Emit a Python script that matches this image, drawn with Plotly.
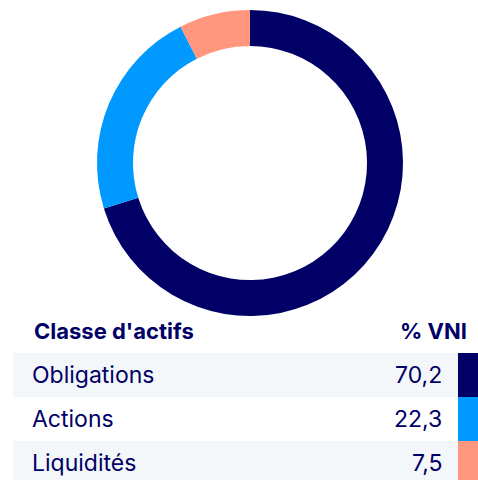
import plotly.graph_objects as go

# Asset allocation (% of net asset value)
categories = ["Obligations", "Actions", "Liquidités"]
values = [70.2, 22.3, 7.5]
colors = ["#000066", "#0099FF", "#FF967D"]
header = ["Classe d'actifs", "% VNI"]

W, H = 478, 480
TEXT = "#000066"
ROW_BG = "#F3F7F9"
FONT = "Inter"


def py(y):
    """Pixel row (from top) to paper coordinate."""
    return 1 - y / H


def px(x):
    return x / W


fig = go.Figure()

# Donut
cx, cy, r = 250, 163, 153
fig.add_trace(go.Pie(
    labels=categories,
    values=values,
    marker=dict(colors=colors, line=dict(width=0)),
    hole=0.765,
    sort=False,
    direction="clockwise",
    rotation=0,
    textinfo="none",
    hoverinfo="label+value",
    showlegend=False,
    domain=dict(x=[px(cx - r), px(cx + r)], y=[py(cy + r), py(cy - r)]),
))

shapes = []
annotations = []

# Table header
header_y = 331
annotations.append(dict(
    x=px(32), y=py(header_y), xref="paper", yref="paper",
    text=f"<b>{header[0]}</b>", showarrow=False,
    xanchor="left", yanchor="middle",
    font=dict(family=FONT, size=22, color=TEXT),
))
annotations.append(dict(
    x=px(469), y=py(header_y), xref="paper", yref="paper",
    text=f"<b>{header[1]}</b>", showarrow=False,
    xanchor="right", yanchor="middle",
    font=dict(family=FONT, size=22, color=TEXT),
))

# Table rows
row_top, row_h = 353, 44
for i, (cat, val, col) in enumerate(zip(categories, values, colors)):
    y0 = row_top + i * row_h
    y1 = y0 + row_h
    if i % 2 == 0:
        shapes.append(dict(
            type="rect", xref="paper", yref="paper",
            x0=px(13), x1=px(458), y0=py(y1), y1=py(y0),
            fillcolor=ROW_BG, line=dict(width=0), layer="below",
        ))
    shapes.append(dict(
        type="rect", xref="paper", yref="paper",
        x0=px(458), x1=px(478), y0=py(y1), y1=py(y0),
        fillcolor=col, line=dict(width=0),
    ))
    ym = (y0 + y1) / 2
    annotations.append(dict(
        x=px(30), y=py(ym), xref="paper", yref="paper",
        text=cat, showarrow=False, xanchor="left", yanchor="middle",
        font=dict(family=FONT, size=23, color=TEXT),
    ))
    annotations.append(dict(
        x=px(444), y=py(ym), xref="paper", yref="paper",
        text=f"{val:.1f}".replace(".", ","), showarrow=False,
        xanchor="right", yanchor="middle",
        font=dict(family=FONT, size=23, color=TEXT),
    ))

fig.update_layout(
    width=W, height=H,
    margin=dict(l=0, r=0, t=0, b=0),
    paper_bgcolor="white", plot_bgcolor="white",
    shapes=shapes, annotations=annotations,
)

fig.write_html("out.html")
